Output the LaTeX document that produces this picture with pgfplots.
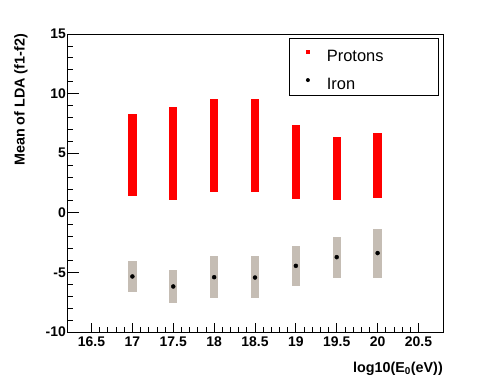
\documentclass[border=0pt]{standalone}
\usepackage{pgfplots}
\pgfplotsset{compat=1.18}
\usepackage{pgfplotstable}
\usepackage{fontspec}
\setmainfont{Liberation Sans}
\definecolor{ironband}{RGB}{197,189,180}

% x  lo  hi  (band), mean for iron
\pgfplotstableread{
x     lo     hi
17.0  1.40   8.28
17.5  1.06   8.84
18.0  1.71   9.51
18.5  1.71   9.51
19.0  1.15   7.35
19.5  1.09   6.38
20.0  1.26   6.68
}\protons
\pgfplotstableread{
x     lo     hi     mean
17.0  -6.63  -4.08  -5.34
17.5  -7.58  -4.78  -6.18
18.0  -7.13  -3.66  -5.40
18.5  -7.13  -3.66  -5.43
19.0  -6.10  -2.80  -4.45
19.5  -5.48  -1.99  -3.72
20.0  -5.43  -1.34  -3.38
}\iron

\begin{document}
\begin{tikzpicture}
\useasboundingbox (0,0) rectangle (482bp,382bp);
\begin{axis}[
    at={(67bp,50bp)}, anchor=south west,
    scale only axis, width=376bp, height=298bp,
    xmin=16.2, xmax=20.8,
    ymin=-10, ymax=15,
    xtick={16.5,17,...,20.5},
    ytick={-10,-5,...,15},
    minor x tick num=4,
    minor y tick num=4,
    tick pos=left, tick align=inside,
    axis line style={line width=0.9bp},
    major tick style={line width=0.8bp, black},
    minor tick style={line width=0.8bp, black},
    xtick style={/pgfplots/major tick length=9bp, /pgfplots/minor tick length=4.5bp},
    ytick style={/pgfplots/major tick length=12bp, /pgfplots/minor tick length=6bp},
    /pgf/number format/assume math mode=true,
    ticklabel style={font=\fontsize{14}{16}\selectfont\bfseries},
    xticklabel style={yshift=-1bp},
    yticklabel style={xshift=2.4bp},
    xlabel={log10(E\textsubscript{0}(eV))},
    ylabel={Mean of LDA (f1-f2)},
    every axis x label/.style={at={(rel axis cs:1,0)}, anchor=north east,
        yshift=-30bp, inner sep=0pt, font=\fontsize{14.4}{17}\selectfont\bfseries},
    every axis y label/.style={at={(axis description cs:-0.104,1)}, anchor=south east,
        rotate=90, inner sep=0pt, font=\fontsize{14.4}{17}\selectfont\bfseries},
    legend style={at={(axis description cs:0.987,0.986)}, anchor=north east,
        draw=none, fill=none, inner xsep=0pt, inner ysep=0pt,
        row sep=0bp,
        font=\fontsize{16.5}{19}\selectfont,
        nodes={text height=22.7bp, text depth=5.3bp, inner sep=0pt, anchor=base west}},
    legend cell align=left,
]
\addplot[forget plot, draw=none, mark=none,
    error bars/.cd, y dir=both, y explicit,
    error bar style={line width=8.3bp, red}, error mark=none]
    table[x=x, y expr=(\thisrow{lo}+\thisrow{hi})/2,
          y error plus expr=(\thisrow{hi}-\thisrow{lo})/2,
          y error minus expr=(\thisrow{hi}-\thisrow{lo})/2] {\protons};
\addplot[forget plot, only marks, mark=*, mark size=2bp, black,
    error bars/.cd, y dir=both, y explicit,
    error bar style={line width=8.3bp, ironband}, error mark=none]
    table[x=x, y=mean,
          y error plus expr=\thisrow{hi}-\thisrow{mean},
          y error minus expr=\thisrow{mean}-\thisrow{lo}] {\iron};
\addlegendimage{legend image code/.code={
    \path[draw=none, fill=none] (0bp,0bp) rectangle (38bp,1bp);
    \fill[red, draw=none] (16.8bp,7bp) rectangle (21.2bp,11bp);}}
\addlegendentry{\makebox[111bp][l]{Protons}}
\addlegendimage{legend image code/.code={
    \path[draw=none, fill=none] (0bp,0bp) rectangle (38bp,1bp);
    \fill[black, draw=none] (19bp,9bp) circle (2bp);}}
\addlegendentry{\makebox[111bp][l]{Iron}}
% legend frame
\draw[line width=0.9bp, black] (axis description cs:0.5904,0.7953)
    rectangle (axis description cs:0.9867,0.9866);
\end{axis}
\end{tikzpicture}
\end{document}
